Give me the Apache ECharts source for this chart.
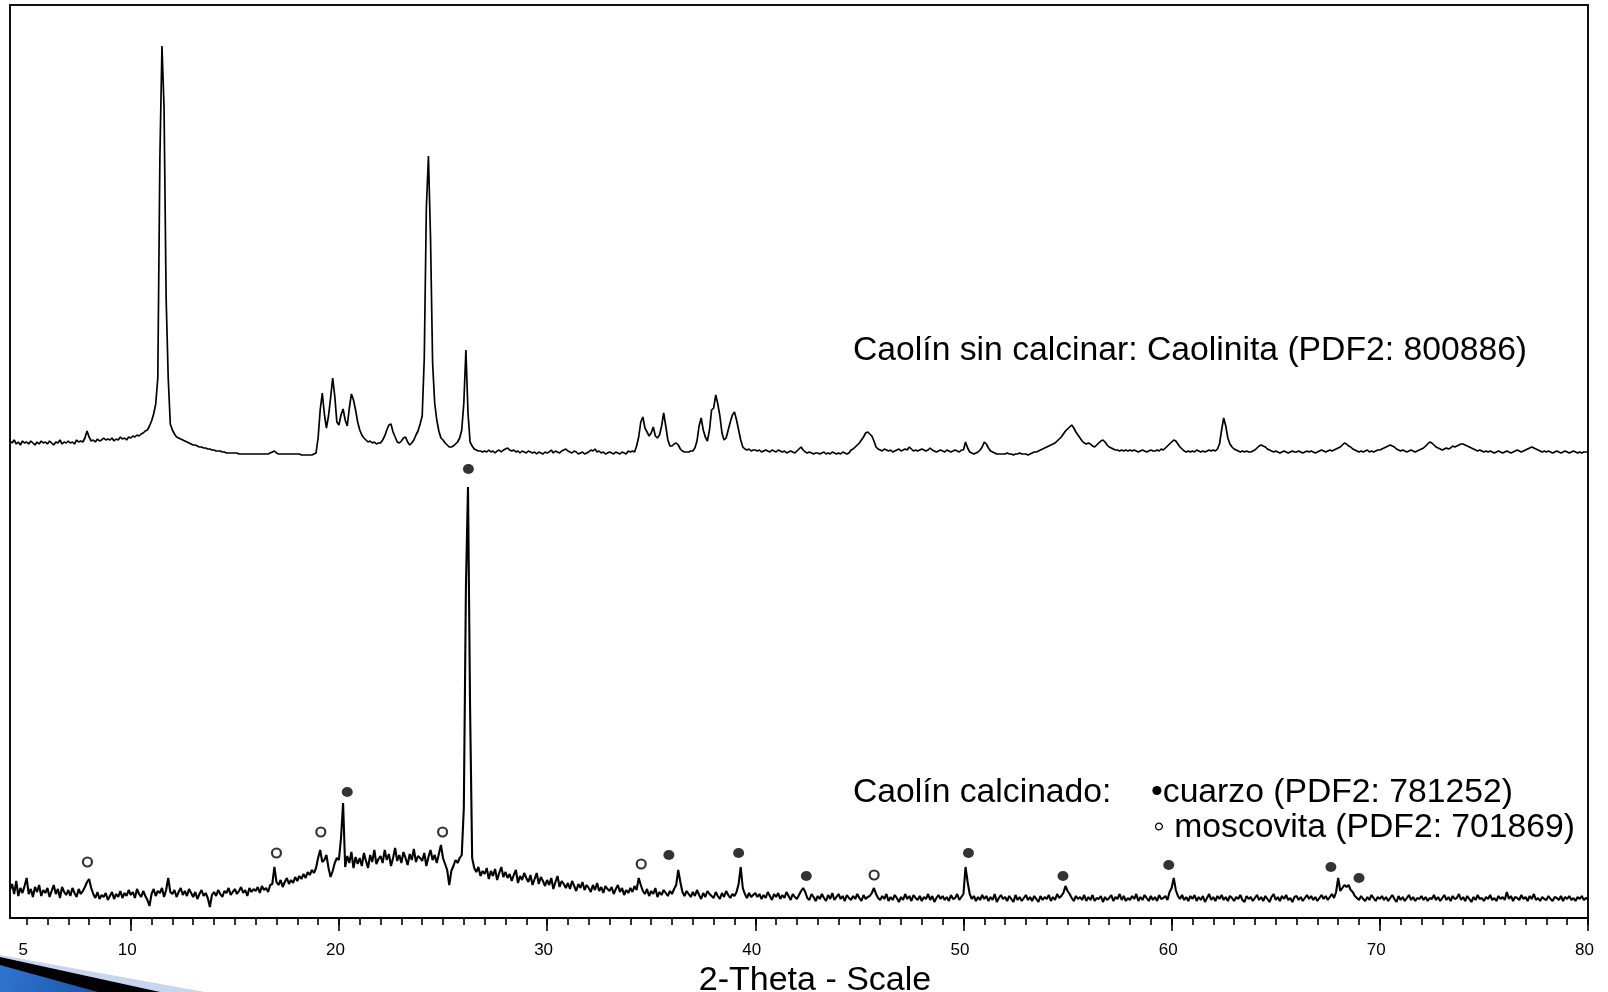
<!DOCTYPE html>
<html><head><meta charset="utf-8">
<script src="https://cdn.jsdelivr.net/npm/echarts@6/dist/echarts.min.js"></script>
<style>html,body{margin:0;padding:0;background:#fff}#chart{width:1608px;height:992px}</style>
</head><body><div id="chart"></div>
<script>
// 2-theta sampling grid (degrees)
const angleStart = 4.2;
const angleStep = 0.1;

// Caolín sin calcinar (a.u.), one row per degree, 4.2 ... 80.0
const upperIntensity = [
47,45,48,44,46,43,47,45,
46,44,47,45,43,46,44,47,45,46,
44,47,45,43,46,45,48,44,46,45,
47,45,46,44,48,46,47,46,50,57,
51,47,48,46,49,47,48,50,48,49,
48,50,47,49,48,51,49,50,48,51,
50,52,51,53,52,54,55,57,58,62,
67,74,84,110,330,442,380,190,110,64,
58,54,51,50,49,48,47,46,45,44,
43,43,42,41,41,40,40,39,39,38,
38,37,37,37,36,36,35,35,35,35,
35,35,34,34,34,34,34,34,34,34,
34,34,34,34,34,34,34,35,36,37,
35,34,34,34,34,34,34,34,34,34,
34,34,33,33,33,33,33,33,34,35,
50,78,95,74,60,72,90,110,92,66,
63,73,79,68,62,80,94,88,78,66,
58,53,50,48,46,47,45,46,44,45,
45,48,52,58,63,64,56,51,46,45,
47,50,51,46,43,45,48,53,57,64,
72,130,280,332,250,125,85,68,57,50,
48,45,43,41,41,42,44,46,50,58,
85,138,75,46,42,39,38,37,37,36,
37,36,38,36,37,35,37,38,36,38,
39,40,38,37,38,36,37,35,37,36,
35,37,36,35,36,34,36,35,34,36,
35,36,38,35,37,36,35,37,38,39,
37,36,35,37,36,34,35,36,34,35,
36,38,37,39,36,37,35,36,34,35,
36,35,34,36,35,34,36,35,34,37,
36,37,36,42,51,66,71,60,56,52,
55,61,52,50,53,62,75,62,48,42,
42,44,45,43,39,37,36,36,36,37,
37,40,47,62,70,58,51,47,58,78,
80,93,84,72,55,48,50,58,66,73,
76,68,58,48,41,39,38,39,37,38,
38,37,38,36,37,38,37,36,38,37,
36,38,37,36,37,35,36,37,36,35,
37,39,41,38,36,35,36,35,34,35,
35,34,35,36,34,35,34,36,35,34,
35,34,36,35,34,35,38,39,41,43,
45,48,51,55,56,54,52,47,41,39,
38,37,39,38,37,38,36,37,38,39,
37,38,39,38,41,39,37,38,37,38,
39,38,37,38,40,38,37,36,37,38,
37,36,38,37,36,37,38,37,36,38,
38,46,40,36,35,34,35,36,38,41,
46,44,40,37,36,35,34,34,34,34,
34,35,34,34,33,34,34,35,34,34,
34,33,34,35,36,36,37,38,39,40,
41,42,43,44,45,47,49,51,54,57,
59,61,63,60,56,53,50,47,45,44,
45,44,42,41,43,45,47,48,46,43,
41,40,39,38,38,37,38,37,38,37,
38,37,38,37,36,37,38,37,36,37,
38,37,37,38,37,39,38,40,42,44,
46,48,47,44,41,39,37,36,37,36,
37,36,38,37,36,37,36,37,38,37,
38,37,39,44,58,70,62,50,44,41,
39,38,37,36,37,36,37,36,36,37,
38,40,42,43,42,41,39,38,37,36,
37,36,35,36,37,36,35,36,37,36,
36,37,36,35,36,37,36,37,36,35,
36,37,38,37,36,37,38,37,38,39,
40,41,43,45,44,42,41,39,38,37,
36,37,36,37,38,36,37,36,37,38,
38,39,40,41,42,43,42,41,39,38,
37,38,37,36,37,38,37,36,37,38,
39,40,42,44,46,45,43,41,40,39,
38,39,40,39,40,42,41,42,43,44,
44,43,42,41,40,39,38,37,38,37,
36,37,36,37,36,35,36,37,36,35,
36,37,36,35,36,37,38,37,36,37,
38,39,40,41,40,39,38,37,36,37,
36,37,36,35,36,37,36,35,36,37,
36,35,36,37,36,35,36,35,36,36,
36
];

// Caolín calcinado (a.u.), one row per degree, 4.2 ... 80.0
const lowerIntensity = [
28,34,24,37,22,30,25,32,
40,24,29,21,31,26,33,22,28,25,
30,21,27,33,24,29,20,31,26,23,
28,22,30,25,21,29,24,27,31,36,
39,30,24,20,26,19,23,21,25,18,
22,26,19,24,21,27,20,25,22,28,
23,26,20,29,24,21,27,22,18,12,
24,29,22,27,25,30,21,28,40,26,
24,28,21,26,30,23,27,22,29,25,
21,26,19,24,28,22,25,20,11,23,
26,22,28,24,21,27,25,30,23,26,
29,24,27,31,25,28,22,30,26,29,
27,31,25,32,28,30,26,33,34,51,
36,33,38,31,36,40,34,38,35,41,
37,42,39,44,40,46,43,48,45,50,
60,68,56,58,63,50,41,47,55,60,
58,80,115,51,62,55,66,50,61,54,
60,52,65,57,50,63,56,68,54,59,
62,55,68,58,64,52,60,70,57,63,
55,66,60,53,64,58,69,56,62,60,
57,65,52,61,68,58,63,55,64,73,
60,54,48,33,47,52,58,55,60,63,
110,330,431,210,60,50,46,51,42,47,
44,50,39,47,42,49,38,45,51,41,
46,40,44,37,43,48,35,42,38,45,
40,36,43,33,39,45,34,41,37,32,
38,33,40,29,36,42,31,37,34,30,
35,29,37,32,27,34,30,36,28,33,
30,26,33,28,35,27,31,25,32,29,
27,31,24,29,33,26,30,23,28,25,
30,26,32,28,40,33,27,24,29,22,
27,24,30,21,26,23,28,25,22,27,
24,29,33,48,36,26,22,27,24,21,
26,22,28,23,19,25,21,27,24,22,
20,26,22,19,25,21,27,23,20,24,
22,26,34,51,30,24,20,25,21,23,
25,21,24,19,23,20,26,22,18,24,
21,25,19,23,20,26,22,18,24,21,
19,23,27,30,26,20,18,24,21,17,
22,19,24,20,17,23,19,25,18,21,
24,19,22,17,23,20,18,22,19,24,
20,17,23,19,21,22,25,30,24,20,
18,22,19,24,17,21,18,23,20,16,
21,18,24,19,22,17,23,20,18,22,
17,21,19,24,18,22,16,20,23,19,
22,18,21,17,23,19,20,24,18,21,
24,51,36,24,19,22,17,21,18,23,
19,22,17,21,18,24,16,20,23,19,
21,17,22,19,16,23,18,21,17,20,
23,18,21,17,22,19,16,22,18,21,
19,23,17,21,18,24,20,22,25,32,
27,24,20,17,22,19,21,18,23,17,
21,18,23,17,20,19,22,16,21,18,
20,23,17,21,19,24,18,22,17,20,
18,22,19,24,17,21,18,23,20,17,
22,18,21,17,23,19,20,22,18,26,
30,40,28,22,19,23,18,21,17,22,
19,23,17,21,18,22,16,20,24,18,
21,17,22,19,23,18,21,17,22,20,
17,21,19,23,18,16,22,19,21,17,
20,23,18,21,17,22,19,16,21,24,
18,21,17,22,19,23,18,20,16,21,
22,18,21,17,20,23,19,22,18,21,
17,20,23,19,22,18,21,24,20,26,
40,27,30,33,31,33,28,26,22,20,
18,22,19,17,21,18,23,20,17,21,
19,22,18,21,17,20,23,19,16,22,
18,21,17,20,23,18,21,17,20,19,
22,18,21,17,20,19,23,18,21,17,
20,23,18,21,17,22,19,20,24,18,
21,17,22,19,16,21,18,23,19,20,
17,21,19,23,18,20,17,22,19,21,
18,26,19,22,17,21,20,18,23,19,
21,17,22,19,24,18,20,17,21,19,
18,22,19,17,21,20,18,22,17,21,
19,22,18,20,17,21,19,22,18,20,
19
];

// vertical shift of the uncalcined pattern (a.u.)
const upperOffset = 430;

// phase markers [2θ, height a.u.]
const quartzMarks = [[26.22,449],[20.40,126],[35.85,63],[39.2,65],[42.45,42],[50.24,65],[54.78,42],[59.86,53],[67.65,51],[69.0,40]];
const muscoviteMarks = [[7.92,56],[17.0,65],[19.13,86],[24.98,86],[34.52,54],[45.71,43]];

// axis ticks
const tickLabels = [5,10,20,30,40,50,60,70,80];
const majorTicks = [10,20,30,40,50,60,70,80];
const minorTicks = [5,6,7,8,9,10,11,12,13,14,15,16,17,18,19,20,21,22,23,24,25,26,27,28,29,30,31,32,33,34,35,36,37,38,39,40,41,42,43,44,45,46,47,48,49,50,51,52,53,54,55,56,57,58,59,60,61,62,63,64,65,66,67,68,69,70,71,72,73,74,75,76,77,78,79,80];

const labelUpper = 'Caolín sin calcinar: Caolinita (PDF2: 800886)';
const labelLower = 'Caolín calcinado:';
const labelQuartz = '•cuarzo (PDF2: 781252)';
const labelMuscovite = '◦ moscovita (PDF2: 701869)';
const axisTitle = '2-Theta - Scale';

const FONT = "'Liberation Sans', Arial, sans-serif";

function toPairs(vals, offset) {
  return vals.map((v, i) => [Math.round((angleStart + i * angleStep) * 10) / 10, v + offset]);
}

const chart = echarts.init(document.getElementById('chart'), null, {renderer: 'canvas'});
const xMin = 4.2, xMax = 80;
chart.setOption({
  animation: false,
  backgroundColor: '#fff',
  grid: {left: 10, right: 20, top: 5, bottom: 74, show: true, borderColor: '#111', borderWidth: 2,
         containLabel: false, outerBoundsMode: 'none'},
  xAxis: [{
    type: 'value', min: xMin, max: xMax, position: 'bottom',
    axisLine: {show: true, lineStyle: {color: '#000', width: 2}},
    axisTick: {show: true, customValues: minorTicks, length: 7, lineStyle: {color: '#000', width: 1.6}},
    axisLabel: {customValues: tickLabels, color: '#000', fontFamily: FONT, fontSize: 17, margin: 24, padding: [0, 7, 0, 0]},
    splitLine: {show: false},
    name: axisTitle, nameLocation: 'middle', nameGap: 44,
    nameTextStyle: {color: '#000', fontFamily: FONT, fontSize: 34, padding: [0, 0, 0, 32]}
  }, {
    type: 'value', min: xMin, max: xMax, position: 'bottom',
    axisLine: {show: false},
    axisTick: {show: true, customValues: majorTicks, length: 13, lineStyle: {color: '#000', width: 1.6}},
    axisLabel: {show: false},
    splitLine: {show: false}
  }],
  yAxis: {type: 'value', min: 0, max: 913, show: false},
  series: [
    {type: 'line', name: 'calcinado', data: toPairs(lowerIntensity, 0), showSymbol: false, sampling: null,
     lineStyle: {color: '#000', width: 2.1}, z: 3},
    {type: 'line', name: 'sin calcinar', data: toPairs(upperIntensity, upperOffset), showSymbol: false,
     lineStyle: {color: '#000', width: 1.7}, z: 3},
    {type: 'scatter', name: 'cuarzo', data: quartzMarks, symbol: 'circle', symbolSize: [11, 10],
     itemStyle: {color: '#000'}, z: 4},
    {type: 'scatter', name: 'moscovita', data: muscoviteMarks, symbol: 'circle', symbolSize: 9,
     itemStyle: {color: '#fff', borderColor: '#000', borderWidth: 2.2}, z: 4}
  ],
  graphic: [
    {type: 'text', x: 853, y: 351, style: {text: labelUpper, fontFamily: FONT, fontSize: 33.7, fill: '#000', verticalAlign: 'middle', textVerticalAlign: 'middle'}},
    {type: 'text', x: 853, y: 793, style: {text: labelLower, fontFamily: FONT, fontSize: 33.7, fill: '#000', verticalAlign: 'middle', textVerticalAlign: 'middle'}},
    {type: 'text', x: 1151, y: 793, style: {text: labelQuartz, fontFamily: FONT, fontSize: 33.7, fill: '#000', verticalAlign: 'middle', textVerticalAlign: 'middle'}},
    {type: 'text', x: 1153, y: 828, style: {text: labelMuscovite, fontFamily: FONT, fontSize: 33.7, fill: '#000', verticalAlign: 'middle', textVerticalAlign: 'middle'}},
    {type: 'polygon', shape: {points: [[0, 955], [205, 992], [0, 992]]}, style: {fill: '#c8d5ee'}, z: 10},
    {type: 'polygon', shape: {points: [[0, 957], [160, 992], [0, 992]]}, style: {fill: '#000'}, z: 11},
    {type: 'polygon', shape: {points: [[0, 965], [98, 992], [0, 992]]},
     style: {fill: {type: 'linear', x: 0, y: 0, x2: 1, y2: 1, colorStops: [{offset: 0, color: '#2f74d0'}, {offset: 1, color: '#1c56a8'}]}}, z: 12}
  ]
});
</script>
</body></html>
